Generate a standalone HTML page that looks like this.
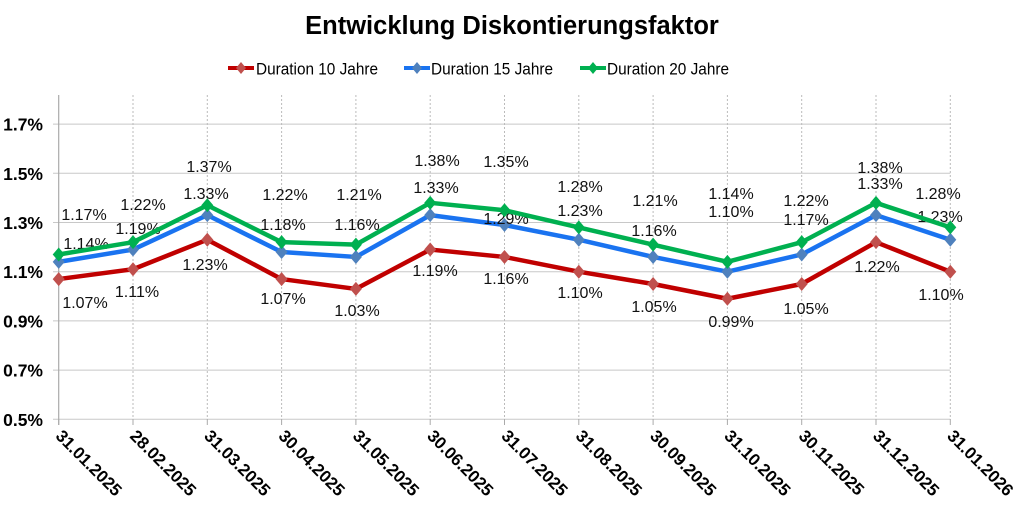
<!DOCTYPE html><html><head><meta charset="utf-8"><style>body{margin:0;background:#fff}svg{display:block;font-family:"Liberation Sans",Arial,sans-serif}</style></head><body>
<svg id="c" width="1024" height="523" viewBox="0 0 1024 523" xmlns="http://www.w3.org/2000/svg">
<text x="512" y="34" text-anchor="middle" font-size="25.5" font-weight="bold">Entwicklung Diskontierungsfaktor</text>
<g font-size="17">
<line x1="228" y1="68" x2="254" y2="68" stroke="#c00000" stroke-width="4"/><path d="M241 62l5 6-5 6-5-6z" fill="#c0504d"/><text x="256" y="74.5" textLength="122" lengthAdjust="spacingAndGlyphs">Duration 10 Jahre</text>
<line x1="404" y1="68" x2="430" y2="68" stroke="#1a73f0" stroke-width="4"/><path d="M417 62l5 6-5 6-5-6z" fill="#4f81bd"/><text x="431" y="74.5" textLength="122" lengthAdjust="spacingAndGlyphs">Duration 15 Jahre</text>
<line x1="580" y1="68" x2="606" y2="68" stroke="#00b050" stroke-width="4"/><path d="M593 62l5 6-5 6-5-6z" fill="#00b050"/><text x="607" y="74.5" textLength="122" lengthAdjust="spacingAndGlyphs">Duration 20 Jahre</text>
</g>
<g id="g"></g>
</svg>
<script>
var NS="http://www.w3.org/2000/svg",g=document.getElementById('g');
function el(t,a,txt){var e=document.createElementNS(NS,t);for(var k in a)e.setAttribute(k,a[k]);if(txt)e.textContent=txt;g.appendChild(e);return e;}
var X=[],i;for(i=0;i<13;i++)X.push(58.7+74.3*i);
function Y(v){return 419.3-(v-0.5)*246;}
var ticks=[0.5,0.7,0.9,1.1,1.3,1.5,1.7];
ticks.forEach(function(v){var y=Y(v);el('line',{x1:53,x2:950.3,y1:y,y2:y,stroke:'#c8c8c8','stroke-width':1});
el('text',{x:43,y:y+6.5,'text-anchor':'end','font-size':17.5,'font-weight':'bold'},v.toFixed(1)+'%');});
X.forEach(function(x,k){if(k>0)el('line',{x1:x,x2:x,y1:95,y2:419.3,stroke:'#bbb','stroke-width':1,'stroke-dasharray':'2,2'});
el('line',{x1:x,x2:x,y1:419,y2:425,stroke:'#aaa'});});
el('line',{x1:58.7,x2:58.7,y1:95,y2:425,stroke:'#aaa','stroke-width':1.2});
var dates=['31.01.2025','28.02.2025','31.03.2025','30.04.2025','31.05.2025','30.06.2025','31.07.2025','31.08.2025','30.09.2025','31.10.2025','30.11.2025','31.12.2025','31.01.2026'];
dates.forEach(function(d,k){var x=X[k]-4,y=437;el('text',{x:x,y:y,'font-size':17,'font-weight':'bold',transform:'rotate(45 '+x+' '+y+')'},d);});
var S=[
{c:'#c00000',m:'#c0504d',v:[1.07,1.11,1.23,1.07,1.03,1.19,1.16,1.10,1.05,0.99,1.05,1.22,1.10],
 L:[[85,302],[137,291],[205,264],[283,298],[357,310],[435,270],[506,278],[580,292],[654,306],[731,321],[806,308],[877,266],[941,294]]},
{c:'#1a73f0',m:'#4f81bd',v:[1.14,1.19,1.33,1.18,1.16,1.33,1.29,1.23,1.16,1.10,1.17,1.33,1.23],
 L:[[86,243],[138,228],[206,193],[283,224],[357,224],[436,187],[506,218],[580,210],[654,230],[731,211],[806,219],[880,183],[940,216]]},
{c:'#00b050',m:'#00b050',v:[1.17,1.22,1.37,1.22,1.21,1.38,1.35,1.28,1.21,1.14,1.22,1.38,1.28],
 L:[[84,214],[143,204],[209,166],[285,194],[359,194],[437,160],[506,161],[580,186],[655,200],[731,193],[806,200],[880,167],[938,193]]}];
S.forEach(function(s){var p=s.v.map(function(v,k){return X[k]+','+Y(v)}).join(' ');
el('polyline',{points:p,fill:'none',stroke:s.c,'stroke-width':4.5,'stroke-linejoin':'round'});
s.v.forEach(function(v,k){var x=X[k],y=Y(v);el('path',{d:'M'+x+' '+(y-7)+'l6 7-6 7-6-7z',fill:s.m});
el('text',{x:s.L[k][0],y:s.L[k][1]+6,'text-anchor':'middle','font-size':16,fill:'#111'},v.toFixed(2)+'%');});});
</script>
</body></html>
